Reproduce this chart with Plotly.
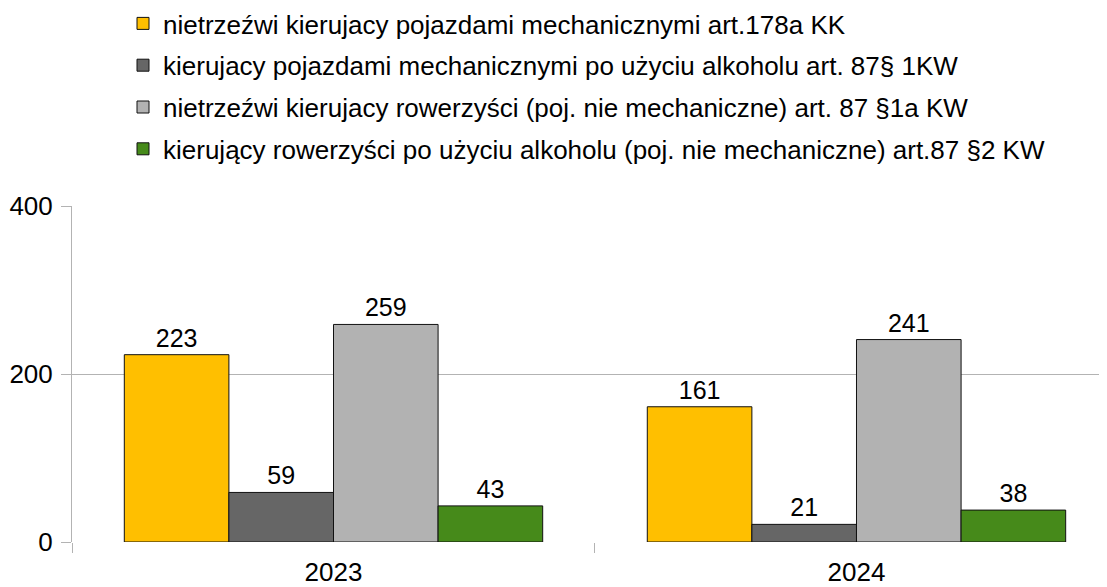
import plotly.graph_objects as go

years = ["2023", "2024"]
series_names = [
    "nietrzeźwi kierujacy pojazdami mechanicznymi art.178a KK",
    "kierujacy pojazdami mechanicznymi po użyciu alkoholu art. 87§ 1KW",
    "nietrzeźwi kierujacy rowerzyści (poj. nie mechaniczne) art. 87 §1a KW",
    "kierujący rowerzyści po użyciu alkoholu (poj. nie mechaniczne) art.87 §2 KW",
]
values_s1 = [223, 161]
values_s2 = [59, 21]
values_s3 = [259, 241]
values_s4 = [43, 38]
colors = ["#FFBF00", "#666666", "#B2B2B2", "#468A1A"]
y_ticks = [0, 200, 400]

FONT = "Liberation Sans"
# page body has an 8px margin; layout margins compensate for it
ML, MT, MR, MB = 64, 198, 8, 53
PW, PH = 1107 - ML - MR, 587 - MT - MB

fig = go.Figure()
for i, (name, vals) in enumerate(zip(series_names, [values_s1, values_s2, values_s3, values_s4])):
    fig.add_trace(go.Bar(
        x=years, y=vals, name=name,
        marker=dict(color=colors[i], line=dict(color="#111111", width=1)),
        text=[str(v) for v in vals], textposition="outside",
        textfont=dict(family=FONT, size=25, color="black"),
        cliponaxis=False, legendgroup=f"g{i}",
    ))

fig.update_layout(
    width=1107, height=587,
    margin=dict(l=ML, r=MR, t=MT, b=MB, autoexpand=False),
    plot_bgcolor="white", paper_bgcolor="white",
    barmode="group", bargap=0.2, bargroupgap=0,
    font=dict(family=FONT, size=25, color="black"),
    showlegend=True,
    legend=dict(
        x=(115 - ML) / PW, y=(MT + PH + 8) / PH,
        xanchor="left", yanchor="top",
        font=dict(family=FONT, size=26, color="black"),
        traceorder="grouped", tracegroupgap=5,
        bgcolor="rgba(0,0,0,0)",
    ),
    uniformtext=dict(mode=False),
)
fig.update_xaxes(
    type="category", range=[-0.5, 1.479],
    tickson="boundaries", ticks="outside", ticklen=10, tickcolor="#b3b3b3", tickwidth=1,
    showgrid=False, showline=False, zeroline=False, tickangle=0,
    ticklabelstandoff=12,
    tickfont=dict(family=FONT, size=26, color="black"),
)
fig.update_yaxes(
    range=[0, 400], tickvals=y_ticks, ticks="outside", ticklen=10, tickcolor="#b3b3b3",
    showgrid=True, gridcolor="#b3b3b3", gridwidth=1,
    showline=True, linecolor="#b3b3b3", linewidth=1, zeroline=False,
    ticklabelstandoff=3,
    tickfont=dict(family=FONT, size=26, color="black"),
)
fig.write_html("out.html")
